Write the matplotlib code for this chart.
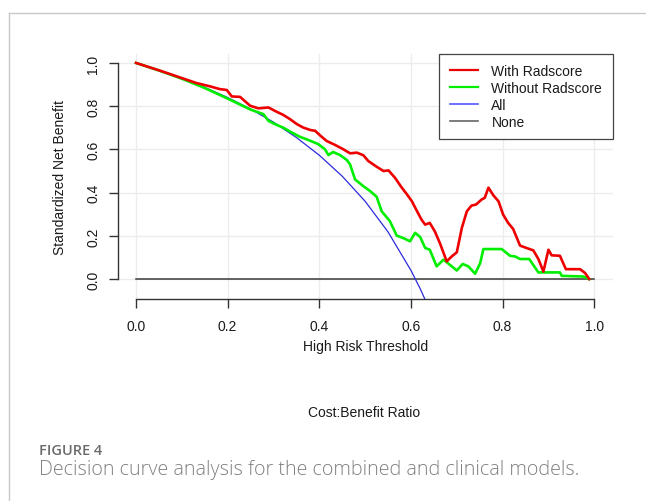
import matplotlib.pyplot as plt
from matplotlib.lines import Line2D

# Decision curve values
X_WITH = [0.0, 0.05, 0.10, 0.132, 0.161, 0.183, 0.198, 0.209, 0.227, 0.249, 0.267, 0.289,
          0.307, 0.321, 0.336, 0.351, 0.365, 0.380, 0.391, 0.401, 0.416, 0.434, 0.452,
          0.467, 0.482, 0.496, 0.507, 0.525, 0.540, 0.551, 0.565, 0.580, 0.594, 0.602,
          0.612, 0.623, 0.631, 0.641, 0.652, 0.663, 0.678, 0.689, 0.700, 0.711, 0.722,
          0.732, 0.742, 0.754, 0.761, 0.769, 0.780, 0.791, 0.801, 0.812, 0.823, 0.838,
          0.852, 0.867, 0.878, 0.889, 0.900, 0.907, 0.925, 0.938, 0.969, 0.980, 0.989]
Y_WITH = [1.0, 0.966, 0.930, 0.907, 0.892, 0.879, 0.875, 0.845, 0.843, 0.802, 0.790, 0.794,
          0.774, 0.760, 0.740, 0.717, 0.701, 0.690, 0.686, 0.666, 0.639, 0.621, 0.601,
          0.582, 0.585, 0.573, 0.546, 0.520, 0.500, 0.503, 0.469, 0.423, 0.384, 0.360,
          0.319, 0.275, 0.252, 0.260, 0.221, 0.167, 0.082, 0.105, 0.124, 0.237, 0.314,
          0.340, 0.345, 0.368, 0.376, 0.423, 0.387, 0.360, 0.299, 0.260, 0.232, 0.155,
          0.144, 0.133, 0.093, 0.035, 0.136, 0.110, 0.108, 0.046, 0.046, 0.028, 0.0]

X_WITHOUT = [0.0, 0.05, 0.10, 0.15, 0.198, 0.249, 0.278, 0.289, 0.303, 0.321, 0.340, 0.358,
             0.372, 0.387, 0.398, 0.412, 0.420, 0.430, 0.445, 0.460, 0.467, 0.478, 0.496,
             0.511, 0.525, 0.536, 0.554, 0.569, 0.583, 0.598, 0.609, 0.620, 0.631, 0.641,
             0.656, 0.671, 0.685, 0.700, 0.713, 0.725, 0.740, 0.751, 0.758, 0.798, 0.816,
             0.827, 0.838, 0.858, 0.878, 0.925, 0.929, 0.976, 0.989]
Y_WITHOUT = [1.0, 0.965, 0.927, 0.884, 0.837, 0.785, 0.763, 0.732, 0.717, 0.701, 0.678, 0.658,
             0.647, 0.634, 0.624, 0.601, 0.574, 0.588, 0.574, 0.551, 0.531, 0.461, 0.430,
             0.407, 0.381, 0.314, 0.268, 0.201, 0.190, 0.175, 0.214, 0.195, 0.144, 0.136,
             0.059, 0.090, 0.066, 0.040, 0.070, 0.059, 0.025, 0.074, 0.139, 0.139, 0.108,
             0.105, 0.093, 0.093, 0.031, 0.031, 0.015, 0.012, 0.0]

X_ALL = [0.0, 0.05, 0.10, 0.15, 0.20, 0.25, 0.30, 0.35, 0.40, 0.45, 0.50, 0.55, 0.60, 0.62, 0.64]
Y_ALL = [1.0, 0.966, 0.929, 0.887, 0.840, 0.787, 0.726, 0.655, 0.573, 0.476, 0.360, 0.218,
         0.040, -0.044, -0.138]

X_NONE = [0.0, 1.0]
Y_NONE = [0.0, 0.0]

TICKS = [0.0, 0.2, 0.4, 0.6, 0.8, 1.0]
TICK_LABELS = ["0.0", "0.2", "0.4", "0.6", "0.8", "1.0"]

plt.rcParams["font.family"] = ["Liberation Sans", "DejaVu Sans"]

fig = plt.figure(figsize=(6.46, 5.02), dpi=100)
ax = fig.add_axes([0.1822, 0.4024, 0.7661, 0.4883])

for t in TICKS:
    ax.axvline(t, color="#ececec", lw=1.0, zorder=0)
    ax.axhline(t, color="#ececec", lw=1.0, zorder=0)

ax.plot(X_NONE, Y_NONE, color="#3a3a3a", lw=1.1, label="None", zorder=2)
ax.plot(X_ALL, Y_ALL, color="#2b2bdd", lw=0.9, label="All", zorder=3)
ax.plot(X_WITHOUT, Y_WITHOUT, color="#00ee00", lw=1.9, label="Without Radscore", zorder=4)
ax.plot(X_WITH, Y_WITH, color="#ee0000", lw=1.9, label="With Radscore", zorder=5)

ax.set_xlim(-0.04, 1.04)
ax.set_ylim(-0.092, 1.042)

for side in ["top", "right"]:
    ax.spines[side].set_visible(False)
ax.spines["left"].set_bounds(0, 1)
ax.spines["bottom"].set_bounds(0, 1)
for side in ["left", "bottom"]:
    ax.spines[side].set_color("#333333")
    ax.spines[side].set_linewidth(1.0)

ax.set_xticks(TICKS)
ax.set_xticklabels(TICK_LABELS)
ax.set_yticks(TICKS)
ax.set_yticklabels(TICK_LABELS, rotation=90, va="center")
ax.tick_params(direction="out", length=6.5, width=1.0, color="#333333",
               labelsize=10, labelcolor="#1a1a1a")
ax.tick_params(axis="x", pad=8)
ax.tick_params(axis="y", pad=6)

ax.set_xlabel("High Risk Threshold", fontsize=10, color="#1a1a1a", labelpad=4)
ax.set_ylabel("Standardized Net Benefit", fontsize=10, color="#1a1a1a", labelpad=14)

handles = [
    Line2D([], [], color="#ee0000", lw=1.6),
    Line2D([], [], color="#00ee00", lw=1.6),
    Line2D([], [], color="#5555ff", lw=1.2),
    Line2D([], [], color="#666666", lw=1.2),
]
leg = ax.legend(handles, ["With Radscore", "Without Radscore", "All", "None"],
                loc="upper right", bbox_to_anchor=(1.0, 1.0), borderaxespad=0,
                fontsize=10, handlelength=2.0, handletextpad=1.0,
                labelspacing=0.2, borderpad=0.75, fancybox=False, framealpha=1)
leg.get_frame().set_edgecolor("#444444")
leg.get_frame().set_linewidth(0.9)
for txt in leg.get_texts():
    txt.set_color("#1a1a1a")

fig.text(364 / 646, 1 - 413 / 502, "Cost:Benefit Ratio", ha="center", va="center",
         fontsize=10, color="#1a1a1a")

# page frame and caption
fig.add_artist(Line2D([9 / 646, 1.0], [1 - 14 / 502, 1 - 14 / 502],
                      transform=fig.transFigure, color="#c8c8c8", lw=1.0))
fig.add_artist(Line2D([9 / 646, 9 / 646], [1 - 14 / 502, 0.0],
                      transform=fig.transFigure, color="#c8c8c8", lw=1.0))

fig.text(39 / 646, 1 - 455 / 502, "FIGURE 4", ha="left", va="baseline",
         fontsize=10.5, color="#6b6b6b", fontweight="semibold", family="Open Sans")
fig.text(39 / 646, 1 - 475 / 502,
         "Decision curve analysis for the combined and clinical models.",
         ha="left", va="baseline", fontsize=14.2, color="#808080",
         fontweight="light", family="Open Sans")

fig.savefig("out.png", dpi=100)
